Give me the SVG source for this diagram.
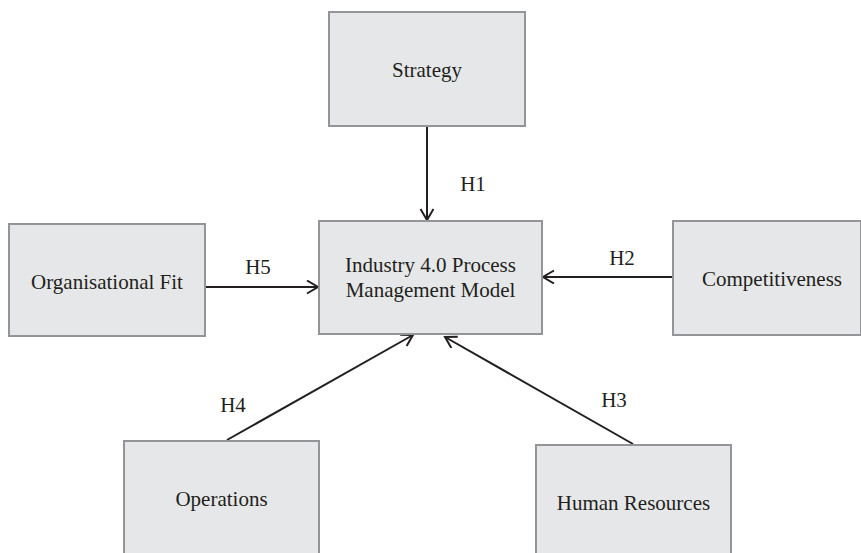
<svg xmlns="http://www.w3.org/2000/svg" width="861" height="553" viewBox="0 0 861 553">
<style>
.box{fill:#e6e7e8;stroke:#939598;stroke-width:2}
.lbl{font-family:"Liberation Serif","Times New Roman",serif;font-size:21px;fill:#231f20;text-anchor:middle}
.edge{stroke:#231f20;stroke-width:2;fill:none;marker-end:url(#arr)}
</style>
<defs>
<marker id="arr" markerUnits="userSpaceOnUse" markerWidth="16" markerHeight="16" refX="12" refY="7" orient="auto">
<path d="M1,0.5 L12,7 L1,13.5" fill="none" stroke="#231f20" stroke-width="2"/>
</marker>
</defs>
<rect width="861" height="553" fill="#ffffff"/>
<g id="connectors">
<line class="edge" x1="427" y1="126" x2="427" y2="220"/>
<line class="edge" x1="205" y1="287" x2="318" y2="287"/>
<line class="edge" x1="673" y1="277" x2="543" y2="277"/>
<line class="edge" x1="227" y1="440" x2="413" y2="335"/>
<line class="edge" x1="633" y1="444" x2="445" y2="337"/>
<text class="lbl" x="473" y="191">H1</text>
<text class="lbl" x="258" y="274">H5</text>
<text class="lbl" x="622" y="265">H2</text>
<text class="lbl" x="233" y="412">H4</text>
<text class="lbl" x="614" y="407">H3</text>
</g>
<g id="strategy">
<rect class="box" x="329" y="12" width="196" height="114"/>
<text class="lbl" x="427" y="77">Strategy</text>
</g>
<g id="model">
<rect class="box" x="319" y="221" width="223" height="113"/>
<text class="lbl" x="430.5" y="272">Industry 4.0 Process</text>
<text class="lbl" x="430.5" y="297">Management Model</text>
</g>
<g id="orgfit">
<rect class="box" x="9" y="224" width="196" height="112"/>
<text class="lbl" x="107" y="289">Organisational Fit</text>
</g>
<g id="competitiveness">
<rect class="box" x="673" y="221" width="188" height="114"/>
<text class="lbl" x="772" y="286">Competitiveness</text>
</g>
<g id="operations">
<rect class="box" x="124" y="441" width="195" height="120"/>
<text class="lbl" x="221.5" y="506">Operations</text>
</g>
<g id="hr">
<rect class="box" x="536" y="445" width="195" height="120"/>
<text class="lbl" x="633.5" y="510">Human Resources</text>
</g>
</svg>
